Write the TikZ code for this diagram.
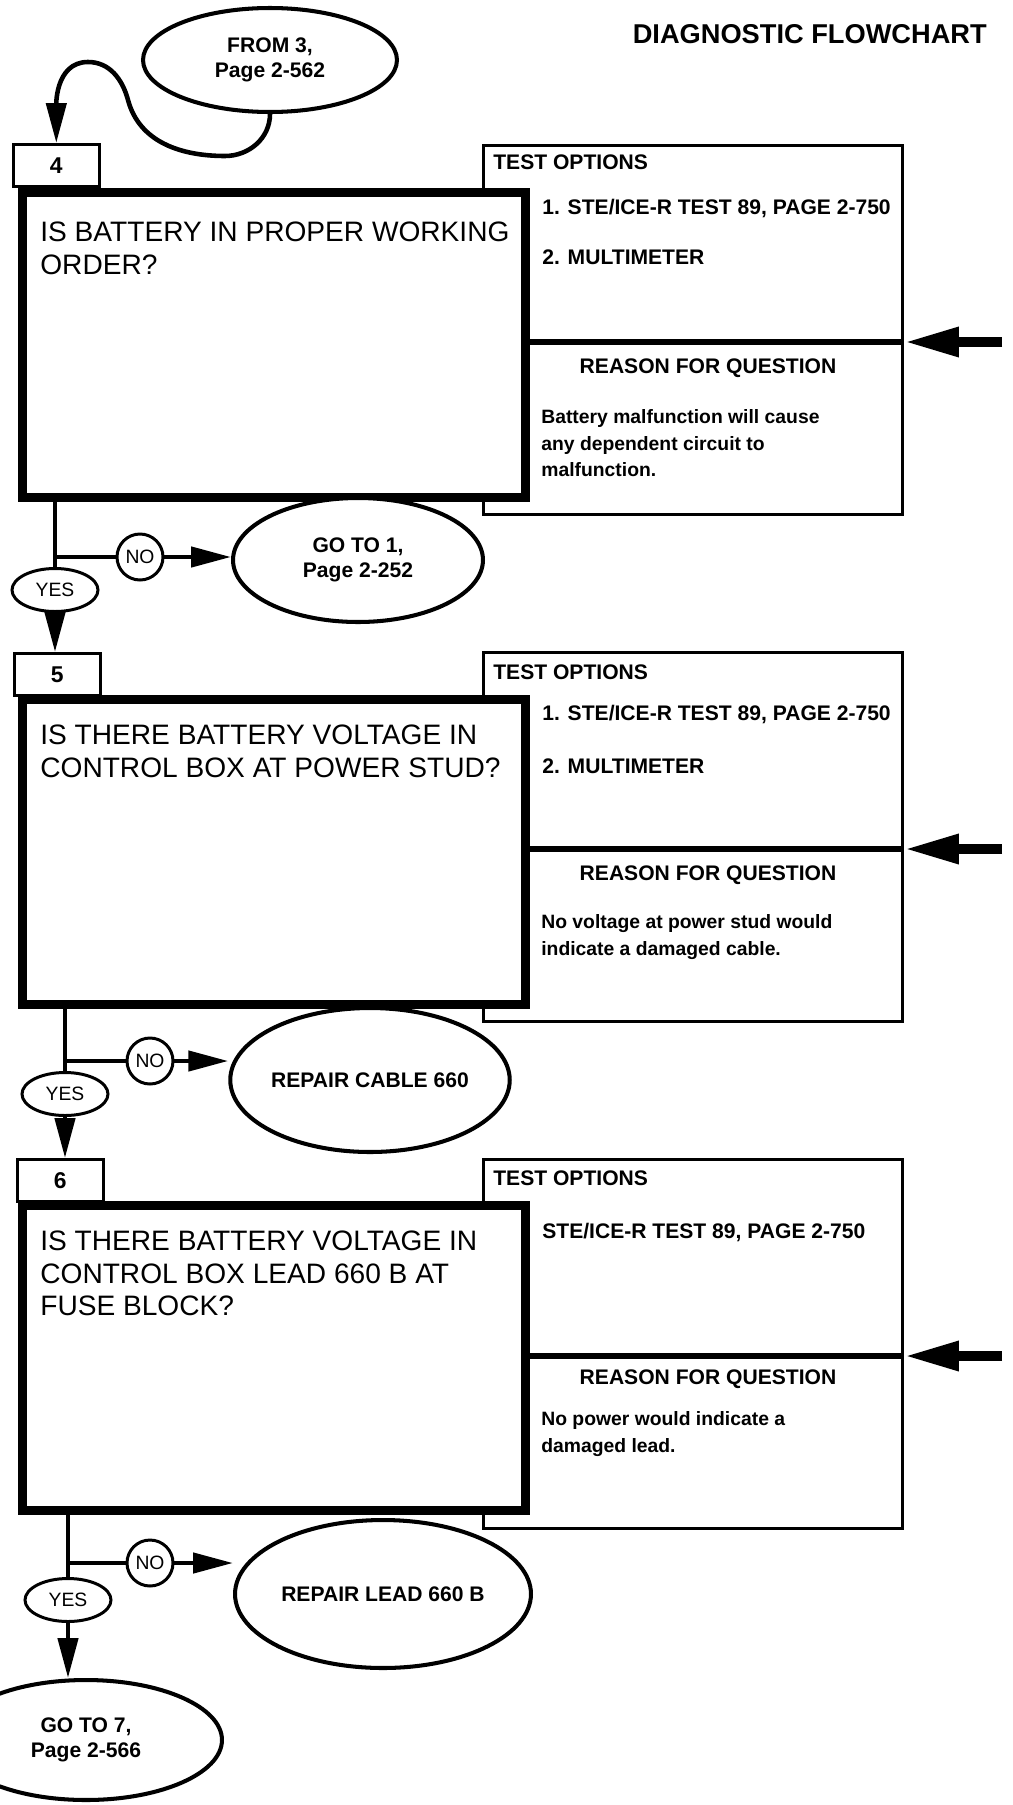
\documentclass[tikz,border=0pt]{standalone}
\usepackage{fontspec}
\setmainfont{Liberation Sans}
\usetikzlibrary{positioning, arrows.meta, shapes.geometric}

\begin{document}
\begin{tikzpicture}[
                    x=0.02cm, y=-0.02cm,
                    font=\fontsize{12}{14}\selectfont\bfseries,
                    >={Triangle[length=0.8cm,width=0.4cm]},
                    conn/.style={line width=2.6pt},
                    qbox/.style={draw, line width=5pt, fill=white, anchor=north west, minimum width=10.06cm, minimum height=6.1cm, inner sep=0pt},
                    tabbox/.style={draw, line width=1.5pt, anchor=north west, minimum width=1.72cm, minimum height=0.84cm, font=\fontsize{13}{15}\selectfont\bfseries},
                    panel/.style={draw, line width=1.7pt, anchor=north west, minimum width=8.38cm, minimum height=7.38cm, inner sep=0pt},
                    divider/.style={line width=3.4pt},
                    bigarrow/.style={line width=6pt, -{Triangle[length=1.1cm,width=0.55cm]}},
                    oval/.style={draw, ellipse, line width=2.3pt, fill=white, align=center, inner sep=0pt, font=\fontsize{12}{14.2}\selectfont\bfseries},
                    nobub/.style={draw, circle, line width=1.7pt, fill=white, minimum size=0.92cm, inner sep=0pt, font=\fontsize{11}{13}\selectfont},
                    yesbub/.style={draw, ellipse, line width=1.7pt, fill=white, minimum width=1.72cm, minimum height=0.86cm, inner sep=0pt, font=\fontsize{11}{13}\selectfont},
                    question/.style={anchor=north west, align=left, inner sep=0pt, font=\fontsize{16}{18.3}\selectfont},
                    head/.style={anchor=west, inner sep=0pt},
                    reason/.style={anchor=north west, align=left, inner sep=0pt, font=\fontsize{11}{15.2}\selectfont\bfseries}
                ]
                    \useasboundingbox (0,0) rectangle (1012,1805);

                    \node[anchor=east, font=\fontsize{15.5}{18}\selectfont\bfseries] (title) at (993,34) {DIAGNOSTIC FLOWCHART};
                    \node[oval, minimum width=5.08cm, minimum height=2.08cm] (f3) at (270,60) {FROM 3,\\Page 2-562};

                    % block 4
                    \node[panel] (p4) at (482,144) {};
                    \coordinate (e4) at (1002,342);
                    \node[tabbox] (t4) at (12,143) {4};
                    \node[qbox] (q4) at (18,188) {};
                    \draw[divider] (q4.east |- e4) -- (p4.east |- e4);
                    \draw[bigarrow] (e4) -- (p4.east |- e4);
                    \node[question] (q4txt) at (40,222) {IS BATTERY IN PROPER WORKING\\ORDER?};
                    \node[head] (to4) at (493,162) {TEST OPTIONS};
                    \node[head] (o4a) at (542,208) {1. STE/ICE-R TEST 89, PAGE 2-750};
                    \node[head] (o4b) at (542,257) {2. MULTIMETER};
                    \node (r4) at (708,368) {REASON FOR QUESTION};
                    \node[reason] (w4) at (541,409) {Battery malfunction will cause\\any dependent circuit to\\malfunction.};
                    \draw[conn,->] (f3.south) to[out=-90,in=0] (225,156) to[out=180,in=-75] (128,100)
                        to[out=105,in=0] (88,62) to[out=180,in=90] (t4.north);

                    \node[nobub] (n4) at (140,557) {NO};
                    \node[yesbub] (y4) at (55,590) {YES};
                    \node[oval, minimum width=5cm, minimum height=2.48cm] (g1) at (358,560) {GO TO 1,\\Page 2-252};
                    \draw[conn] (q4.south -| y4) -- (y4);
                    \draw[conn] (n4 -| y4) -- (n4);
                    \draw[conn,->] (n4) -- (n4 -| g1.west);

                    % block 5
                    \node[panel] (p5) at (482,651) {};
                    \coordinate (e5) at (1002,849);
                    \node[tabbox] (t5) at (13,652) {5};
                    \node[qbox] (q5) at (18,695) {};
                    \draw[divider] (q5.east |- e5) -- (p5.east |- e5);
                    \draw[bigarrow] (e5) -- (p5.east |- e5);
                    \node[question] (q5txt) at (40,725) {IS THERE BATTERY VOLTAGE IN\\CONTROL BOX AT POWER STUD?};
                    \node[head] (to5) at (493,672) {TEST OPTIONS};
                    \node[head] (o5a) at (542,714) {1. STE/ICE-R TEST 89, PAGE 2-750};
                    \node[head] (o5b) at (542,766) {2. MULTIMETER};
                    \node (r5) at (708,875) {REASON FOR QUESTION};
                    \node[reason] (w5) at (541,914) {No voltage at power stud would\\indicate a damaged cable.};
                    \draw[conn,->] (y4) -- (y4 |- t5.north);

                    \node[nobub] (n5) at (150,1061) {NO};
                    \node[yesbub] (y5) at (65,1094) {YES};
                    \node[oval, minimum width=5.52cm, minimum height=2.88cm] (c660) at (370,1080) {REPAIR CABLE 660};
                    \draw[conn] (q5.south -| y5) -- (y5);
                    \draw[conn] (n5 -| y5) -- (n5);
                    \draw[conn,->] (n5) -- (n5 -| c660.west);

                    % block 6
                    \node[panel] (p6) at (482,1158) {};
                    \coordinate (e6) at (1002,1356);
                    \node[tabbox] (t6) at (16,1158) {6};
                    \node[qbox] (q6) at (18,1201) {};
                    \draw[divider] (q6.east |- e6) -- (p6.east |- e6);
                    \draw[bigarrow] (e6) -- (p6.east |- e6);
                    \node[question] (q6txt) at (40,1231) {IS THERE BATTERY VOLTAGE IN\\CONTROL BOX LEAD 660 B AT\\FUSE BLOCK?};
                    \node[head] (to6) at (493,1178) {TEST OPTIONS};
                    \node[head] (o6a) at (542,1232) {STE/ICE-R TEST 89, PAGE 2-750};
                    \node (r6) at (708,1379) {REASON FOR QUESTION};
                    \node[reason] (w6) at (541,1411) {No power would indicate a\\damaged lead.};
                    \draw[conn,->] (y5) -- (y5 |- t6.north);

                    \node[nobub] (n6) at (150,1563) {NO};
                    \node[yesbub] (y6) at (68,1600) {YES};
                    \node[oval, minimum width=5.92cm, minimum height=2.96cm] (l660) at (383,1594) {REPAIR LEAD 660 B};
                    \node[oval, minimum width=5.44cm, minimum height=2.4cm] (g7) at (86,1740) {GO TO 7,\\Page 2-566};
                    \draw[conn] (q6.south -| y6) -- (y6);
                    \draw[conn] (n6 -| y6) -- (n6);
                    \draw[conn,->] (n6) -- (n6 -| l660.west);
                    \draw[conn,->] (y6) -- (y6 |- g7.north);
                \end{tikzpicture}
\end{document}
